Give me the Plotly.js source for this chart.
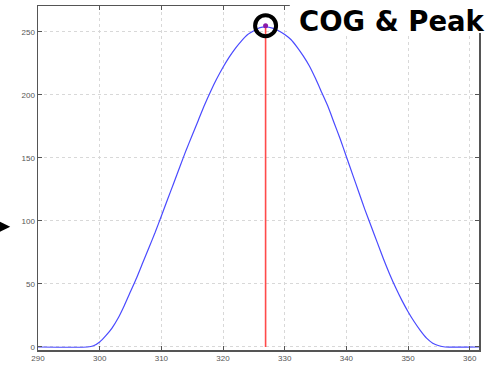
<!DOCTYPE html>
<html>
<head>
<meta charset="utf-8">
<script src="https://cdn.plot.ly/plotly-3.0.1.min.js"></script>
<style>html,body{margin:0;padding:0;background:#fff;}#chart{width:491px;height:370px;}</style>
</head>
<body>
<div id="chart"></div>
<script>
var xValues = [290, 298, 299, 300, 301, 302, 303, 304, 305, 306, 307, 308, 309, 310, 311, 312, 313, 314, 315, 316, 317, 318, 319, 320, 321, 322, 323, 324, 325, 326, 327, 328, 329, 330, 331, 332, 333, 334, 335, 336, 337, 338, 339, 340, 341, 342, 343, 344, 345, 346, 347, 348, 349, 350, 351, 352, 353, 354, 355, 356, 362];
var yValues = [0, 0, 1, 4, 9, 15, 23, 33, 44, 55, 67, 79, 91, 104, 117, 130, 143, 156, 168, 180, 192, 203, 213, 222, 230, 237, 243, 248, 251, 253.5, 254, 253, 251, 248, 244, 238, 231, 223, 213, 202, 191, 178, 165, 151, 137, 123, 109, 96, 83, 70, 58, 47, 37, 28, 20, 13, 7, 3, 1, 0, 0];
var cogX = [326.9];
var cogY = [255];
var xTicks = [290, 300, 310, 320, 330, 340, 350, 360];
var yTicks = [0, 50, 100, 150, 200, 250];
var labelText = 'COG & Peak';

var traces = [
  {x: xValues, y: yValues, type: 'scatter', mode: 'lines', line: {color: '#4a4aff', width: 1.2, shape: 'spline', smoothing: 0.6}, hoverinfo: 'skip'},
  {x: [cogX[0], cogX[0]], y: [0, cogY[0] - 1], type: 'scatter', mode: 'lines', line: {color: '#ff4a4a', width: 1.6}, hoverinfo: 'skip'},
  {x: cogX, y: cogY, type: 'scatter', mode: 'markers', marker: {symbol: 'circle-open', size: 21, color: '#000', line: {width: 4, color: '#000'}}, hoverinfo: 'skip', cliponaxis: false},
  {x: cogX, y: cogY, type: 'scatter', mode: 'markers', marker: {symbol: 'circle', size: 5, color: '#8a1aa8'}, hoverinfo: 'skip'}
];

var axisCommon = {
  showline: true, linecolor: '#555', linewidth: 1.5, mirror: 'ticks',
  ticks: 'inside', ticklen: 4, tickcolor: '#555', tickwidth: 1,
  showgrid: true, gridcolor: '#d8d8d8', griddash: 'dot', gridwidth: 1,
  zeroline: false, tickfont: {family: 'Liberation Sans, Arial, sans-serif', size: 8, color: '#555'}
};

var layout = {
  width: 491, height: 370,
  margin: {l: 38, r: 12, t: 6, b: 20},
  paper_bgcolor: '#fff', plot_bgcolor: '#fff',
  showlegend: false,
  xaxis: Object.assign({}, axisCommon, {range: [290, 361.5], tickvals: xTicks, ticktext: xTicks.map(String)}),
  yaxis: Object.assign({}, axisCommon, {range: [-2.4, 270.6], tickvals: yTicks, ticktext: yTicks.map(String)}),
  shapes: [
    {type: 'rect', xref: 'paper', yref: 'paper', x0: 0.571, x1: 1.05, y0: 0.9215, y1: 1.05, fillcolor: '#fff', line: {width: 0}, layer: 'above'},
    {type: 'path', xref: 'paper', yref: 'paper', path: 'M -0.09 0.375 L -0.063 0.358 L -0.09 0.341 Z', fillcolor: '#000', line: {width: 0}, layer: 'above'}
  ],
  annotations: [
    {xref: 'paper', yref: 'paper', x: 0.588, y: 0.955, xanchor: 'left', yanchor: 'middle', showarrow: false, text: '<b>' + labelText + '</b>',
     font: {family: 'DejaVu Sans, Verdana, sans-serif', size: 27.5, color: '#000'}}
  ]
};

Plotly.newPlot('chart', traces, layout, {staticPlot: true, displayModeBar: false});
</script>
</body>
</html>
